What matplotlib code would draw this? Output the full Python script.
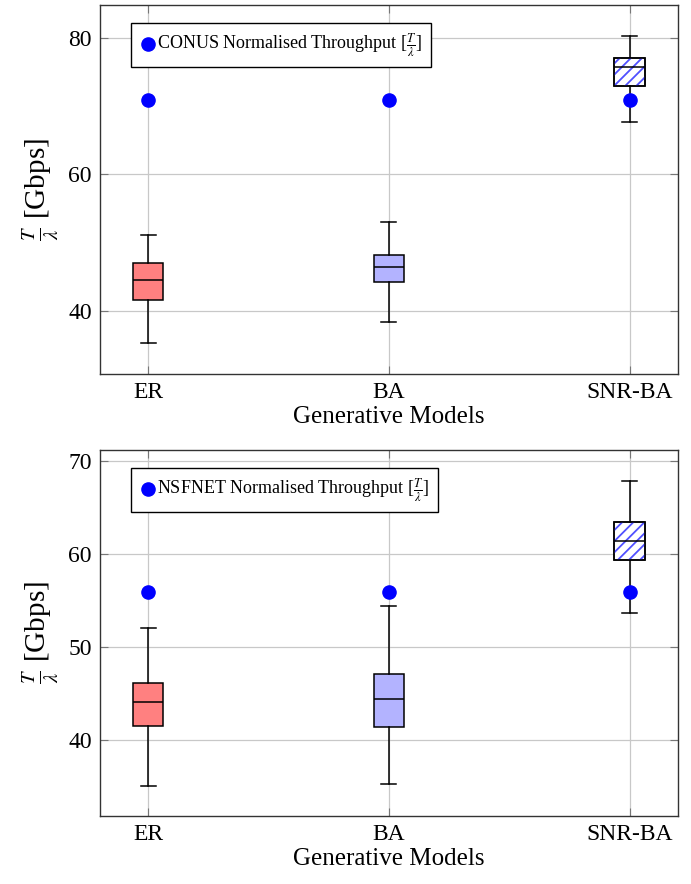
import numpy as np
import matplotlib.pyplot as plt
from matplotlib.patches import PathPatch

plt.rcParams['font.family'] = ['Liberation Serif', 'DejaVu Serif']
plt.rcParams['mathtext.fontset'] = 'stix'
plt.rcParams['hatch.linewidth'] = 1.3

models = ["ER", "BA", "SNR-BA"]

# CONUS box stats: lower whisker, q1, median, q3, upper whisker
conus_low = [35.4, 38.4, 67.7]
conus_q1 = [41.6, 44.2, 72.9]
conus_med = [44.6, 46.5, 75.7]
conus_q3 = [47.0, 48.2, 77.1]
conus_high = [51.1, 53.1, 80.3]
conus_norm = [70.9, 70.9, 70.9]

# NSFNET box stats
nsf_low = [35.0, 35.2, 53.7]
nsf_q1 = [41.5, 41.4, 59.4]
nsf_med = [44.1, 44.4, 61.4]
nsf_q3 = [46.1, 47.1, 63.4]
nsf_high = [52.0, 54.4, 67.9]
nsf_norm = [55.9, 55.9, 55.9]

face_cols = ["#ff8080", "#b3b3ff", "white"]
hatches = [None, None, "///"]


def draw(ax, low, q1, med, q3, high, norm, label, yticks, ylim):
    stats = []
    for i in range(len(models)):
        stats.append({"whislo": low[i], "q1": q1[i], "med": med[i],
                      "q3": q3[i], "whishi": high[i], "fliers": []})
    pos = np.arange(1, len(models) + 1)
    bp = ax.bxp(stats, positions=pos, widths=0.125, patch_artist=True,
                showfliers=False,
                medianprops=dict(color="black", linewidth=1.1),
                whiskerprops=dict(color="black", linewidth=1.1),
                capprops=dict(color="black", linewidth=1.1),
                boxprops=dict(linewidth=1.1))
    for box, fc, h in zip(bp["boxes"], face_cols, hatches):
        box.set_facecolor(fc)
        box.set_edgecolor("black")
        if h:
            # blue hatch layer under the black outline
            hp = PathPatch(box.get_path(), facecolor="none", edgecolor="#5050ff",
                           linewidth=0, hatch=h, zorder=box.get_zorder() + 0.1)
            ax.add_patch(hp)
            outline = PathPatch(box.get_path(), facecolor="none",
                                edgecolor="black", linewidth=1.1,
                                zorder=box.get_zorder() + 0.2)
            ax.add_patch(outline)
    for m in bp["medians"]:
        m.set_zorder(3)
    ax.scatter(pos, norm, s=90, color="blue", zorder=5, label=label)
    ax.set_xlim(0.8, 3.2)
    ax.set_ylim(*ylim)
    ax.set_xticks(pos)
    ax.set_xticklabels(models)
    ax.set_yticks(yticks)
    ax.grid(True, color="#c8c8c8", linewidth=0.9)
    ax.set_axisbelow(True)
    ax.tick_params(direction="in", length=6, width=0.8, color="#777777",
                   labelsize=17, top=True, right=True, pad=6)
    for s in ax.spines.values():
        s.set_linewidth(1.0)
        s.set_color("#333333")
    ax.set_xlabel("Generative Models", fontsize=18, labelpad=2)
    ax.set_ylabel(r"$\frac{T}{\lambda}$ [Gbps]", fontsize=21, labelpad=6)
    leg = ax.legend(loc="upper left", fontsize=13, handletextpad=0.0,
                    handlelength=1.0, borderpad=0.45, fancybox=False,
                    framealpha=1, edgecolor="black",
                    bbox_to_anchor=(0.038, 0.975))
    leg.get_frame().set_linewidth(1.0)


fig = plt.figure(figsize=(6.91, 8.84), dpi=100)
ax1 = fig.add_axes([0.1447, 0.577, 0.836, 0.4173])
ax2 = fig.add_axes([0.1447, 0.0769, 0.836, 0.4141])

draw(ax1, conus_low, conus_q1, conus_med, conus_q3, conus_high, conus_norm,
     r"CONUS Normalised Throughput [$\frac{T}{\lambda}$]", [40, 60, 80], (30.8, 84.8))
draw(ax2, nsf_low, nsf_q1, nsf_med, nsf_q3, nsf_high, nsf_norm,
     r"NSFNET Normalised Throughput [$\frac{T}{\lambda}$]", [40, 50, 60, 70], (31.8, 71.2))

fig.savefig("out.png", dpi=100)
